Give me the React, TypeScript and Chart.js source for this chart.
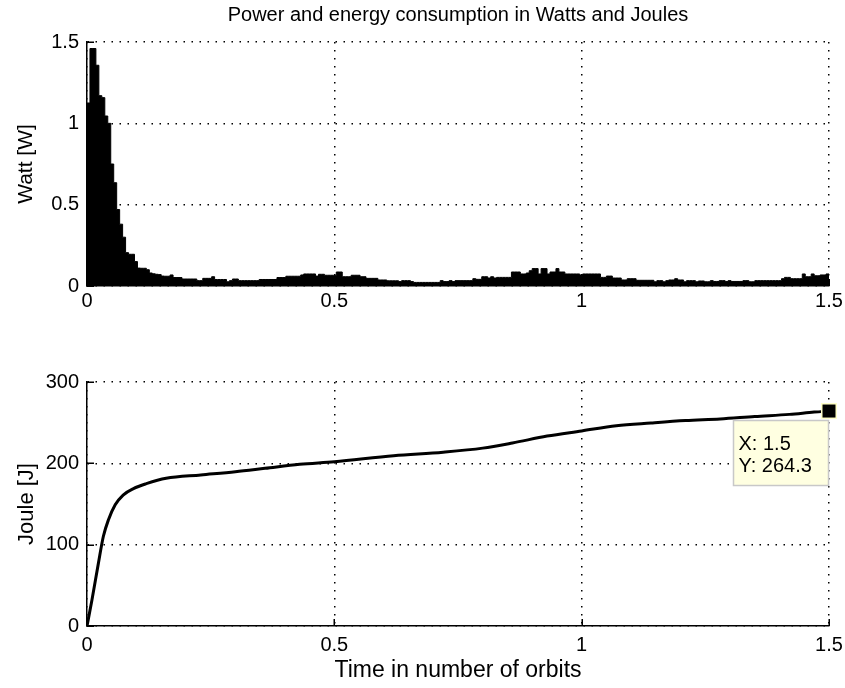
import React, { useEffect, useRef } from 'react';
import { Chart, registerables } from 'chart.js';

Chart.register(...registerables);

const FONT = "'Liberation Sans', Arial, sans-serif";

const CHART_TITLE = 'Power and energy consumption in Watts and Joules';
const POWER_AXIS_TITLE = 'Watt [W]';
const ENERGY_AXIS_TITLE = 'Joule [J]';
const TIME_AXIS_TITLE = 'Time in number of orbits';

const TIME_TICKS = [0, 0.5, 1, 1.5];
const POWER_TICKS = [0, 0.5, 1, 1.5];
const ENERGY_TICKS = [0, 100, 200, 300];

// Power histogram: bins of 0.006 orbit each, from 0 to 1.5 orbits (Watts)
const POWER_BIN_WIDTH = 0.006;
const powerWatts = [
  1.125, 1.46, 1.46, 1.357, 1.17, 1.158, 1.045, 1.0, 0.75, 0.635,
  0.47, 0.38, 0.3, 0.205, 0.195, 0.195, 0.15, 0.11, 0.109, 0.109,
  0.1, 0.08, 0.075, 0.072, 0.07, 0.061,
  0.06, 0.06, 0.068, 0.052, 0.052, 0.052, 0.043, 0.043, 0.043, 0.043,
  0.043, 0.033, 0.033, 0.047, 0.047, 0.047, 0.057, 0.04, 0.04, 0.04,
  0.04, 0.026, 0.033, 0.043, 0.043, 0.033, 0.033, 0.033, 0.033, 0.033,
  0.033, 0.033, 0.04, 0.04, 0.04, 0.04, 0.04, 0.04, 0.052, 0.052,
  0.052, 0.06, 0.06, 0.06, 0.06, 0.06,
  0.068, 0.074, 0.074, 0.074, 0.074, 0.061, 0.072, 0.072, 0.066, 0.066,
  0.066, 0.066, 0.086, 0.086, 0.057, 0.057, 0.057, 0.066, 0.066, 0.066,
  0.057, 0.057, 0.047, 0.047, 0.047, 0.047, 0.037, 0.037, 0.037, 0.032,
  0.032, 0.032, 0.032, 0.027, 0.033, 0.033, 0.033, 0.027, 0.022, 0.022,
  0.022, 0.022, 0.022, 0.022, 0.022, 0.022, 0.022,
  0.033, 0.027, 0.027, 0.033, 0.027, 0.033, 0.033, 0.033, 0.033, 0.033,
  0.033, 0.045, 0.041, 0.041, 0.057, 0.057, 0.049, 0.057, 0.049, 0.053,
  0.053, 0.053, 0.053, 0.053, 0.086, 0.086, 0.086, 0.074, 0.074, 0.08,
  0.094, 0.107, 0.107, 0.074, 0.107, 0.107, 0.074, 0.086, 0.086, 0.107,
  0.086, 0.086, 0.074, 0.074, 0.074, 0.074, 0.074,
  0.068, 0.074, 0.074, 0.074, 0.074, 0.074, 0.074, 0.053, 0.053, 0.061,
  0.061, 0.049, 0.049, 0.049, 0.037, 0.037, 0.045, 0.045, 0.045, 0.035,
  0.035, 0.035, 0.035, 0.035, 0.035, 0.026, 0.033, 0.033, 0.026, 0.033,
  0.037, 0.037, 0.045, 0.037, 0.037, 0.026, 0.033, 0.033, 0.033, 0.026,
  0.031, 0.031, 0.026, 0.026,
  0.033, 0.028, 0.028, 0.033, 0.033, 0.028, 0.033, 0.028, 0.028, 0.028,
  0.028, 0.033, 0.033, 0.026, 0.026, 0.033, 0.033, 0.033, 0.033, 0.033,
  0.033, 0.033, 0.033, 0.033, 0.045, 0.053, 0.053, 0.045, 0.045, 0.045,
  0.045, 0.074, 0.057, 0.057, 0.074, 0.063, 0.063, 0.068, 0.068, 0.074,
];

// Cumulative energy (Joules) against time (orbits)
const energyTime = [
  0, 0.01, 0.023, 0.033, 0.043, 0.057, 0.073, 0.094, 0.12, 0.16,
  0.23, 0.3, 0.36, 0.43, 0.5, 0.62, 0.72, 0.8, 0.86, 0.93,
  1.0, 1.07, 1.14, 1.21, 1.28, 1.35, 1.42, 1.47, 1.5,
];
const energyJoule = [
  0, 32, 77, 110, 130, 149, 161, 169, 175, 181.6,
  185.7, 189.7, 193.9, 198.8, 202, 209.4, 213.7, 218.7, 225, 233.5,
  239.8, 246.2, 249.6, 252.6, 254.6, 257.6, 260.2, 263, 264.3,
];

const DATATIP_X = 1.5;
const DATATIP_Y = 264.3;

const W = 845;
const PLOT_LEFT = 87;
const PLOT_RIGHT_PAD = 16;
const PLOT_TOP_PAD = 42;

function fixedTicks(values: number[]) {
  return (scale: any) => {
    scale.ticks = values.map((v) => ({ value: v }));
  };
}

const gridOpts = { color: '#000', lineWidth: 1.5, drawTicks: false, offset: false };
const borderOpts = { display: true, color: '#000', width: 1.5, dash: [1.5, 6.5] };

function xAxis(withTitle: boolean, height: number, tickPad: number) {
  return {
    type: 'linear',
    min: 0,
    max: 1.5,
    offset: false,
    afterBuildTicks: fixedTicks(TIME_TICKS),
    ticks: {
      color: '#000',
      font: { family: FONT, size: 20 },
      padding: tickPad,
      maxRotation: 0,
      autoSkip: false,
      callback: (v: any) => String(v),
    },
    grid: gridOpts,
    border: borderOpts,
    title: withTitle
      ? {
          display: true,
          text: TIME_AXIS_TITLE,
          color: '#000',
          font: { family: FONT, size: 23 },
          padding: { top: 0, bottom: 4 },
        }
      : { display: false },
    afterFit: (s: any) => {
      s.height = height;
      s.paddingLeft = 0;
      s.paddingRight = 0;
    },
  };
}

function yAxis(max: number, ticks: number[], title: string, titleSize: number) {
  return {
    type: 'linear',
    min: 0,
    max,
    afterBuildTicks: fixedTicks(ticks),
    ticks: {
      color: '#000',
      font: { family: FONT, size: 20 },
      padding: 8,
      autoSkip: false,
      callback: (v: any) => String(v),
    },
    grid: gridOpts,
    border: borderOpts,
    title: {
      display: true,
      text: title,
      color: '#000',
      font: { family: FONT, size: titleSize },
      padding: { top: 14, bottom: 0 },
    },
    afterFit: (s: any) => {
      s.width = PLOT_LEFT;
    },
  };
}

const inwardTicks = {
  id: 'inwardTicks',
  afterDatasetsDraw(chart: any) {
    const { ctx, chartArea, scales } = chart;
    const xs = scales.x;
    const ys = scales.y;
    ctx.save();
    ctx.strokeStyle = '#000';
    ctx.lineWidth = 1.5;
    ctx.beginPath();
    xs.ticks.forEach((t: any) => {
      const px = Math.round(xs.getPixelForValue(t.value)) + 0.25;
      ctx.moveTo(px, chartArea.bottom);
      ctx.lineTo(px, chartArea.bottom - 7);
    });
    ys.ticks.forEach((t: any) => {
      const py = Math.round(ys.getPixelForValue(t.value)) + 0.25;
      ctx.moveTo(chartArea.left, py);
      ctx.lineTo(chartArea.left + 7, py);
    });
    ctx.stroke();
    ctx.restore();
  },
};

const titlePlugin = {
  id: 'topTitle',
  afterDraw(chart: any) {
    const { ctx, chartArea } = chart;
    ctx.save();
    ctx.fillStyle = '#000';
    ctx.font = `20px ${FONT}`;
    ctx.textAlign = 'center';
    ctx.textBaseline = 'middle';
    ctx.fillText(CHART_TITLE, (chartArea.left + chartArea.right) / 2, 15);
    ctx.restore();
  },
};

const datatipPlugin = {
  id: 'datatip',
  afterDraw(chart: any) {
    const { ctx, scales } = chart;
    const px = scales.x.getPixelForValue(DATATIP_X);
    const py = scales.y.getPixelForValue(DATATIP_Y);
    ctx.save();
    // marker
    ctx.fillStyle = '#FFFFC8';
    ctx.fillRect(px - 8, py - 8, 16, 16);
    ctx.fillStyle = '#000';
    ctx.fillRect(px - 6.5, py - 6.5, 13, 13);
    // box
    const bx = Math.round(px - 96) + 0.5;
    const by = Math.round(py + 9) + 0.5;
    const bw = 95;
    const bh = 65;
    ctx.fillStyle = '#FFFFE1';
    ctx.fillRect(bx, by, bw, bh);
    ctx.strokeStyle = '#C8C8C8';
    ctx.lineWidth = 1.5;
    ctx.strokeRect(bx, by, bw, bh);
    ctx.fillStyle = '#000';
    ctx.font = `20px ${FONT}`;
    ctx.textAlign = 'left';
    ctx.textBaseline = 'alphabetic';
    ctx.fillText(`X: ${DATATIP_X}`, bx + 5, by + 29);
    ctx.fillText(`Y: ${DATATIP_Y}`, bx + 5, by + 51);
    ctx.restore();
  },
};

function PowerChart() {
  const ref = useRef<HTMLCanvasElement | null>(null);
  useEffect(() => {
    if (!ref.current) return;
    // histogram drawn as a filled step outline: each bin starts at its left edge
    const steps = powerWatts.map((w, i) => ({ x: i * POWER_BIN_WIDTH, y: w }));
    steps.push({ x: powerWatts.length * POWER_BIN_WIDTH, y: powerWatts[powerWatts.length - 1] });
    const chart = new Chart(ref.current, {
      type: 'line',
      data: {
        datasets: [
          {
            data: steps,
            stepped: 'before',
            fill: 'origin',
            backgroundColor: '#000',
            borderColor: '#000',
            borderWidth: 1,
            pointRadius: 0,
          },
        ],
      },
      options: {
        animation: false,
        responsive: false,
        events: [],
        layout: { padding: { left: 0, right: PLOT_RIGHT_PAD, top: PLOT_TOP_PAD, bottom: 0 } },
        plugins: { legend: { display: false }, tooltip: { enabled: false }, title: { display: false } },
        scales: {
          x: xAxis(false, 34, 3) as any,
          y: yAxis(1.5, POWER_TICKS, POWER_AXIS_TITLE, 21) as any,
        },
      },
      plugins: [inwardTicks, titlePlugin],
    } as any);
    return () => chart.destroy();
  }, []);
  return (
    <canvas
      ref={ref}
      width={W}
      height={320}
      style={{ position: 'absolute', left: 0, top: 0, width: W, height: 320 }}
    />
  );
}

function EnergyChart() {
  const ref = useRef<HTMLCanvasElement | null>(null);
  useEffect(() => {
    if (!ref.current) return;
    const chart = new Chart(ref.current, {
      type: 'line',
      data: {
        datasets: [
          {
            data: energyTime.map((t, i) => ({ x: t, y: energyJoule[i] })),
            borderColor: '#000',
            borderWidth: 3,
            pointRadius: 0,
            fill: false,
            cubicInterpolationMode: 'monotone',
          },
        ],
      },
      options: {
        animation: false,
        responsive: false,
        events: [],
        layout: { padding: { left: 0, right: PLOT_RIGHT_PAD, top: PLOT_TOP_PAD, bottom: 0 } },
        plugins: { legend: { display: false }, tooltip: { enabled: false }, title: { display: false } },
        scales: {
          x: xAxis(true, 62, 7) as any,
          y: yAxis(300, ENERGY_TICKS, ENERGY_AXIS_TITLE, 22) as any,
        },
      },
      plugins: [inwardTicks, datatipPlugin],
    } as any);
    return () => chart.destroy();
  }, []);
  return (
    <canvas
      ref={ref}
      width={W}
      height={348}
      style={{ position: 'absolute', left: 0, top: 340, width: W, height: 348 }}
    />
  );
}

export default function App() {
  return (
    <div style={{ position: 'absolute', left: 0, top: 0, width: W, height: 688, background: '#fff' }}>
      <PowerChart />
      <EnergyChart />
    </div>
  );
}
